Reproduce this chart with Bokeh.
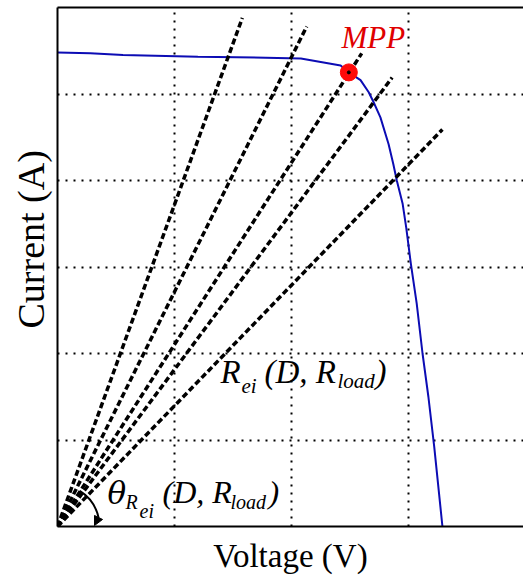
from math import radians
from bokeh.plotting import figure
from bokeh.models import Range1d, FixedTicker, LinearAxis, Label, Arrow, NormalHead, Title
from bokeh.embed import file_html
from bokeh.resources import INLINE

# ---- data ----
# I-V curve of the PV module
voltage = [0.0, 2.8, 5.6, 12.0, 17.8, 20.8, 22.5, 24.2, 24.9, 25.9, 26.6, 27.0,
           27.6, 28.3, 28.7, 29.0, 29.5, 29.8, 30.2, 30.7, 31.2, 31.7, 32.2, 32.9]
current = [5.48, 5.47, 5.45, 5.43, 5.42, 5.41, 5.37, 5.33, 5.25, 5.16, 5.02, 4.91,
           4.73, 4.42, 4.19, 4.00, 3.73, 3.46, 3.04, 2.58, 2.00, 1.50, 0.92, 0.0]
# maximum power point
mpp_v = [24.9]
mpp_i = [5.25]
# load lines R_ei(D, R_load) drawn from the origin, end points
rei_end_v = [15.8, 21.3, 26.0, 28.6, 32.9]
rei_end_i = [5.88, 5.78, 5.47, 5.19, 4.59]
# grid positions
x_grid = [10, 20, 30]
y_grid = [1, 2, 3, 4, 5]

FONT = "Liberation Serif"
X0_PX, Y0_PX = 57.0, 526.0   # page position of the origin
PX_PER_V, PX_PER_A = 11.7, 86.5
W, H = 523, 579


def dx(px):
    return (px - X0_PX) / PX_PER_V


def dy(py):
    return (Y0_PX - py) / PX_PER_A


p = figure(width=W, height=H,
           x_range=Range1d(0, (W - X0_PX) / PX_PER_V), y_range=Range1d(0, (Y0_PX - 7) / PX_PER_A),
           output_backend="svg", toolbar_location=None,
           min_border_left=57, min_border_right=0, min_border_top=7, min_border_bottom=H - 526)
p.outline_line_color = None
p.background_fill_color = "white"
p.border_fill_color = "white"

for ax in (p.xaxis[0], p.yaxis[0]):
    ax.ticker = FixedTicker(ticks=[])
    ax.major_tick_out = 0
    ax.major_tick_in = 0
    ax.minor_tick_out = 0
    ax.minor_tick_in = 0
    ax.major_label_standoff = 0
    ax.axis_line_color = "black"
    ax.axis_line_width = 2

p.xaxis.axis_label = "Voltage (V)"
p.xaxis.axis_label_text_font = FONT
p.xaxis.axis_label_text_font_size = "33px"
p.xaxis.axis_label_text_font_style = "normal"
p.xaxis.axis_label_text_color = "black"
p.xaxis.axis_label_standoff = 11

top = LinearAxis(ticker=FixedTicker(ticks=[]), major_tick_out=0, major_tick_in=0,
                 minor_tick_out=0, minor_tick_in=0, major_label_standoff=0,
                 axis_label_standoff=0, axis_line_color="black", axis_line_width=2)
p.add_layout(top, "above")

p.add_layout(Title(text="Current (A)", align="left", offset=526 - 328, standoff=11,
                   text_font=FONT, text_font_size="38px", text_font_style="normal",
                   text_color="black"), "left")

p.xgrid[0].ticker = FixedTicker(ticks=x_grid)
p.ygrid[0].ticker = FixedTicker(ticks=y_grid)
for g in (p.xgrid[0], p.ygrid[0]):
    g.grid_line_color = "black"
    g.grid_line_width = 2
    g.grid_line_dash = "2 6"
    g.grid_line_alpha = 1.0

# I-V curve
p.line(voltage, current, line_color="#0c0cb4", line_width=2)

# load lines
p.segment(x0=[0] * len(rei_end_v), y0=[0] * len(rei_end_i), x1=rei_end_v, y1=rei_end_i,
          line_color="black", line_width=3.5, line_dash="6 3")

# angle arc with arrow
p.arc(x=[0], y=[0], radius=42, radius_units="screen",
      start_angle=radians(12), end_angle=radians(58),
      line_color="black", line_width=2)
p.add_layout(Arrow(end=NormalHead(size=9, fill_color="black", line_color="black"),
                   x_start=dx(98), y_start=dy(517), x_end=dx(94), y_end=dy(525),
                   line_color="black", line_width=2))

# MPP marker
p.scatter(mpp_v, mpp_i, size=17, fill_color="#ff0a0a", line_color="#ff0a0a")
p.scatter(mpp_v, mpp_i, size=3, fill_color="black", line_color="black")

# text annotations: (text, left x px, baseline y px, size, style, color, font)
texts = [
    ("MPP", 341, 48, 31, "italic", "#e00000", FONT),
    ("R", 220, 383, 33, "italic", "black", FONT),
    ("ei", 241, 393, 21, "italic", "black", FONT),
    ("(D, R", 264, 383, 33, "italic", "black", FONT),
    ("load", 337, 388, 21, "italic", "black", FONT),
    (")", 375, 383, 33, "italic", "black", FONT),
    ("\u03b8", 107, 503, 31, "italic", "black", "DejaVu Serif"),
    ("R", 125, 508, 20, "italic", "black", FONT),
    ("ei", 139, 517, 20, "italic", "black", FONT),
    ("(D, R", 162, 503, 32, "italic", "black", FONT),
    ("load", 230, 508, 20, "italic", "black", FONT),
    (")", 268, 503, 32, "italic", "black", FONT),
]
for t, px, py, sz, st, col, fnt in texts:
    p.add_layout(Label(x=dx(px), y=dy(py - 0.35 * sz), text=t, text_font=fnt,
                       text_font_size=f"{sz}px", text_font_style=st, text_color=col,
                       text_align="left", text_baseline="alphabetic"))

open("out.html", "w").write(file_html(p, INLINE))
